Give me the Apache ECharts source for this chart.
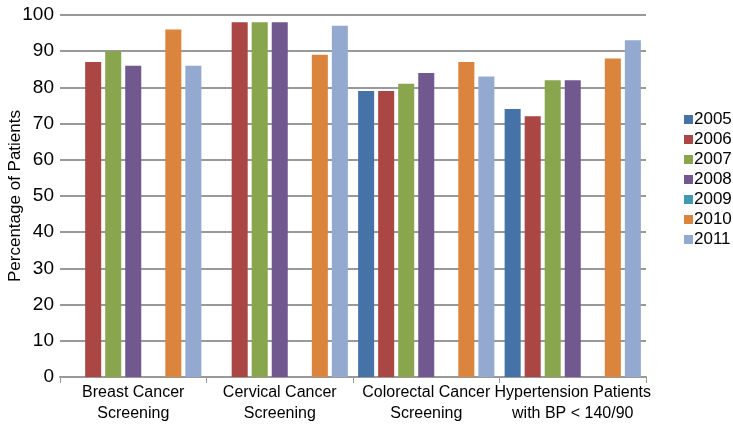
<!DOCTYPE html>
<html lang="en">
<head>
    <meta charset="UTF-8">
    <title>Percentage of Patients</title>
    <script src="https://cdn.jsdelivr.net/npm/echarts@6/dist/echarts.min.js"></script>
    <style>
        html, body { margin: 0; padding: 0; background: #fff; }
        #main { width: 733px; height: 424px; }
    </style>
</head>
<body>
    <div id="main"></div>
    <script>
        // categories and series
        var categories = ['Breast Cancer\nScreening', 'Cervical Cancer\nScreening', 'Colorectal Cancer\nScreening', 'Hypertension Patients\nwith BP < 140/90'];
        var years = ['2005', '2006', '2007', '2008', '2009', '2010', '2011'];
        var v2005 = [null, null, 79, 74];
        var v2006 = [87, 98, 79, 72];
        var v2007 = [90, 98, 81, 82];
        var v2008 = [86, 98, 84, 82];
        var v2009 = [null, null, null, null];
        var v2010 = [96, 89, 87, 88];
        var v2011 = [86, 97, 83, 93];
        var yTicks = [0, 10, 20, 30, 40, 50, 60, 70, 80, 90, 100];

        var colors = ['#4572A7', '#AA4643', '#89A54E', '#71588F', '#4198AF', '#DB843D', '#93A9CF'];
        var values = [v2005, v2006, v2007, v2008, v2009, v2010, v2011];
        var font = 'Liberation Sans, Arial, sans-serif';

        var series = years.map(function (y, i) {
            return {
                name: y,
                type: 'bar',
                data: values[i],
                barGap: '25%',
                barCategoryGap: '7%',
                itemStyle: { color: colors[i] }
            };
        });

        var myChart = echarts.init(document.getElementById('main'));
        var option = {
            animation: false,
            color: colors,
            textStyle: { fontFamily: font },
            legend: {
                orient: 'vertical',
                left: 679,
                top: 106,
                itemWidth: 9,
                itemHeight: 9,
                itemGap: 3,
                icon: 'rect',
                textStyle: { fontSize: 17, fontFamily: font, color: '#000', padding: [0, 0, 0, -4] },
                data: years
            },
            grid: { left: 60, right: 87, top: 15, bottom: 47, outerBoundsMode: 'none', containLabel: false },
            xAxis: {
                type: 'category',
                data: categories,
                axisLine: { lineStyle: { color: '#999', width: 2 } },
                axisTick: { show: true, alignWithLabel: false, length: 6, lineStyle: { color: '#999' } },
                axisLabel: { fontSize: 16, fontFamily: font, color: '#000', lineHeight: 21, margin: 5, interval: 0 }
            },
            yAxis: {
                type: 'value',
                min: yTicks[0],
                max: yTicks[yTicks.length - 1],
                interval: 10,
                name: 'Percentage of Patients',
                nameLocation: 'middle',
                nameGap: 36,
                nameMoveOverlap: false,
                nameTextStyle: { fontSize: 17, fontFamily: font, color: '#000' },
                axisLine: { show: false },
                axisTick: { show: false },
                axisLabel: { fontSize: 19, fontFamily: font, color: '#000', margin: 6 },
                splitLine: { lineStyle: { color: '#999', width: 2 } }
            },
            series: series
        };
        myChart.setOption(option);
    </script>
</body>
</html>
